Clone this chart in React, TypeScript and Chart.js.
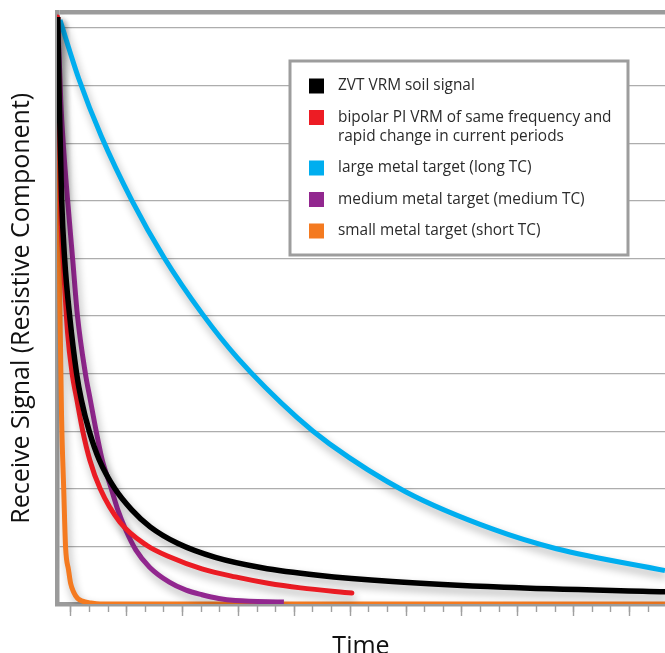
import React, { useEffect, useRef } from 'react';
import { Chart, registerables } from 'chart.js';

Chart.register(...registerables);

const FONT = '"Open Sans", "Noto Sans", sans-serif';

// Legend labels and colours
const seriesLabels = [
  'ZVT VRM soil signal',
  'bipolar PI VRM of same frequency and\nrapid change in current periods',
  'large metal target (long TC)',
  'medium metal target (medium TC)',
  'small metal target (short TC)',
];
const seriesColors = ['#000000', '#ED1C24', '#00AEEF', '#92278F', '#F47A20'];
const seriesWidths = [5.5, 5, 5, 5, 5];

// ZVT VRM soil signal
const zvtTime = [-0.7, -0.62, -0.49, -0.33, -0.06, 0.31, 0.57, 1.0, 1.53, 2.37, 3.26, 4.26, 5.76, 7.76, 10.26, 13.26, 17.26, 23.26, 31.96];
const zvtSignal = [10.19, 8.75, 7.01, 5.99, 5.0, 4.01, 3.54, 2.99, 2.5, 2.0, 1.64, 1.34, 1.05, 0.81, 0.63, 0.5, 0.39, 0.29, 0.21];

// bipolar PI VRM
const bipolarTime = [-0.71, -0.62, -0.54, -0.38, -0.17, 0.07, 0.33, 0.65, 1.02, 1.58, 2.64, 4.07, 5.29, 7.04, 8.84, 10.59, 12.34, 15.09];
const bipolarSignal = [10.19, 8.58, 6.84, 5.8, 4.7, 4.01, 3.54, 2.99, 2.5, 2.0, 1.42, 1.02, 0.82, 0.61, 0.47, 0.36, 0.28, 0.19];

// large metal target (long TC)
const largeTime = [-0.58, 0.43, 1.64, 3.29, 4.98, 7.1, 8.96, 12.14, 13.89, 17.97, 22.74, 26.07, 31.9];
const largeSignal = [10.14, 9.12, 8.12, 7.0, 6.03, 5.02, 4.27, 3.24, 2.78, 1.95, 1.29, 0.96, 0.58];

// medium metal target (medium TC)
const mediumTime = [-0.7, -0.54, -0.38, -0.17, 0.1, 0.36, 0.78, 1.05, 1.37, 1.69, 2.11, 2.53, 2.96, 3.49, 4.23, 5.29, 6.19, 7.04, 7.94, 8.84, 11.44];
const mediumSignal = [10.19, 8.75, 7.88, 7.01, 5.99, 5.0, 4.01, 3.54, 2.99, 2.5, 2.07, 1.63, 1.28, 0.94, 0.64, 0.38, 0.24, 0.16, 0.095, 0.06, 0.035];

// small metal target (short TC)
const smallTime = [-0.7, -0.65, -0.59, -0.49, -0.38, -0.28, -0.12, -0.01, 0.15, 0.36, 0.63, 1.05, 1.58, 31.95];
const smallSignal = [10.19, 7.88, 5.28, 3.19, 2.0, 0.99, 0.59, 0.36, 0.21, 0.1, 0.05, 0.02, 0, 0];

// axis ticks
const minorTicks = [0, 1, 2, 3, 4, 5, 6, 7, 8, 9, 10, 11, 12, 13, 14, 15, 16, 17, 18, 19, 20, 21, 22, 23, 24, 25, 26, 27, 28, 29, 30, 31];
const majorTicks = [0, 3, 6, 9, 12, 15, 18, 21, 24, 27, 30];
const gridLevels = [0, 1, 2, 3, 4, 5, 6, 7, 8, 9, 10];
const X_MIN = -0.74;
const X_MAX = 31.9;
const Y_MAX = 10.27;

const seriesTimes = [zvtTime, bipolarTime, largeTime, mediumTime, smallTime];
const seriesValues = [zvtSignal, bipolarSignal, largeSignal, mediumSignal, smallSignal];
const seriesCaps = ['butt', 'round', 'butt', 'butt', 'butt'];

const shadowPlugin = {
  id: 'lineShadow',
  beforeDatasetsDraw(chart: any) {
    const ctx = chart.ctx;
    ctx.save();
    ctx.shadowColor = 'rgba(0,0,0,0.32)';
    ctx.shadowBlur = 8;
    ctx.shadowOffsetX = 2;
    ctx.shadowOffsetY = 5;
  },
  afterDatasetsDraw(chart: any) {
    chart.ctx.restore();
  },
};

const boxLegendPlugin = {
  id: 'boxLegend',
  afterDraw(chart: any, _args: any, opts: any) {
    const ctx = chart.ctx;
    const { left, top, right, bottom } = opts;
    ctx.save();
    ctx.fillStyle = '#ffffff';
    ctx.fillRect(left, top, right - left, bottom - top);
    ctx.strokeStyle = '#9d9d9d';
    ctx.lineWidth = 3;
    ctx.strokeRect(left, top, right - left, bottom - top);
    ctx.font = `${opts.fontSize}px ${FONT}`;
    ctx.textBaseline = 'middle';
    ctx.textAlign = 'left';
    let y = opts.firstRow;
    chart.data.datasets.forEach((ds: any) => {
      const lines = String(ds.label).split('\n');
      ctx.fillStyle = ds.borderColor;
      ctx.fillRect(opts.boxX, y - opts.boxSize / 2, opts.boxSize, opts.boxSize);
      ctx.fillStyle = '#2b2b2b';
      lines.forEach((ln: string, i: number) => {
        ctx.fillText(ln, opts.textX, y + i * opts.lineGap);
      });
      y += (lines.length - 1) * opts.lineGap + opts.rowGap;
    });
    ctx.restore();
  },
};

export default function App() {
  const canvasRef = useRef<HTMLCanvasElement | null>(null);

  useEffect(() => {
    const canvas = canvasRef.current;
    if (!canvas) return;
    const datasets = seriesLabels.map((label, i) => ({
      label,
      data: seriesTimes[i].map((t, j) => ({ x: t, y: seriesValues[i][j] })),
      borderColor: seriesColors[i],
      backgroundColor: seriesColors[i],
      borderWidth: seriesWidths[i],
      pointRadius: 0,
      fill: false,
      cubicInterpolationMode: 'monotone' as const,
      borderCapStyle: seriesCaps[i] as any,
      borderJoinStyle: 'round' as const,
    }));

    const chart = new Chart(canvas, {
      type: 'line',
      data: { datasets },
      plugins: [shadowPlugin, boxLegendPlugin],
      options: {
        animation: false,
        responsive: false,
        events: [],
        layout: { padding: { top: 12.5, right: -8, bottom: 0, left: 0 } },
        plugins: {
          legend: { display: false },
          tooltip: { enabled: false },
          boxLegend: {
            left: 290,
            top: 61,
            right: 628,
            bottom: 255,
            boxX: 309,
            boxSize: 15,
            textX: 338,
            firstRow: 86,
            lineGap: 19,
            rowGap: 31.5,
            fontSize: 15.4,
          },
        } as any,
        scales: {
          x: {
            type: 'linear',
            min: X_MIN,
            max: X_MAX,
            position: 'bottom',
            grid: { display: false, drawTicks: false },
            border: { display: true, color: '#9b9b9b', width: 4.5 },
            ticks: { display: false },
            title: {
              display: true,
              text: 'Time',
              color: '#111111',
              font: { family: FONT, size: 25 },
              padding: { top: 27.5, bottom: -8.5 },
            },
          },
          xMinor: {
            type: 'linear',
            min: X_MIN,
            max: X_MAX,
            position: { y: 0 } as any,
            afterBuildTicks: (scale: any) => {
              scale.ticks = minorTicks.map((v) => ({ value: v }));
            },
            grid: { drawOnChartArea: false, drawTicks: true, tickLength: 8, tickColor: '#a0a0a0', tickWidth: 1.4 },
            border: { display: false },
            ticks: { display: false },
          },
          xMajor: {
            type: 'linear',
            min: X_MIN,
            max: X_MAX,
            position: { y: 0 } as any,
            afterBuildTicks: (scale: any) => {
              scale.ticks = majorTicks.map((v) => ({ value: v }));
            },
            grid: { drawOnChartArea: false, drawTicks: true, tickLength: 12, tickColor: '#a0a0a0', tickWidth: 1.4 },
            border: { display: false },
            ticks: { display: false },
          },
          y: {
            type: 'linear',
            min: 0,
            max: Y_MAX,
            position: 'left',
            afterBuildTicks: (scale: any) => {
              scale.ticks = [...gridLevels, Y_MAX].map((v) => ({ value: v }));
            },
            grid: {
              drawTicks: false,
              color: (c: any) =>
                c.tick && c.tick.value === Y_MAX ? '#9b9b9b' : c.tick && c.tick.value === 0 ? 'rgba(0,0,0,0)' : '#adadad',
              lineWidth: (c: any) => (c.tick && c.tick.value === Y_MAX ? 4.5 : 1.3),
            },
            border: { display: true, color: '#9b9b9b', width: 4.5 },
            ticks: { display: false },
            title: {
              display: true,
              text: 'Receive Signal (Resistive Component)',
              color: '#111111',
              font: { family: FONT, size: 25 },
              padding: { top: 7, bottom: 20 },
            },
          },
        } as any,
      },
    });
    return () => chart.destroy();
  }, []);

  return (
    <div style={{ position: 'absolute', left: 0, top: 0, width: 665, height: 653, overflow: 'hidden', background: '#fff' }}>
      <canvas ref={canvasRef} width={665} height={653} style={{ display: 'block', width: 665, height: 653 }} />
    </div>
  );
}
